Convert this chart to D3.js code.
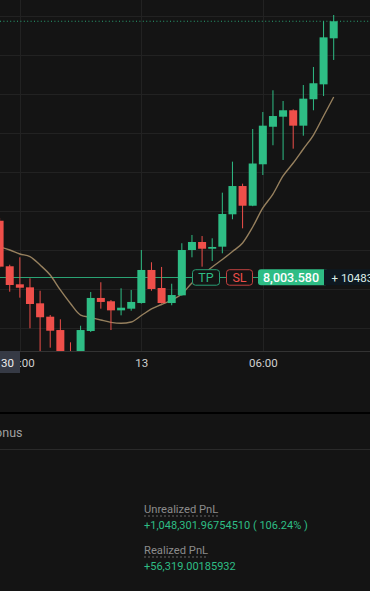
<!DOCTYPE html>
<html>
<head>
<meta charset="utf-8">
<script src="https://cdn.jsdelivr.net/npm/d3@7"></script>
<style>
  html, body { margin: 0; padding: 0; background: #141414; }
  svg { display: block; }
</style>
</head>
<body>
<svg id="chart" width="370" height="591"></svg>
<script>
// ---------- DATA ----------
const startTime = "2025-03-12T17:00:00";          // first (partly hidden) 30-min candle
const candleMinutes = 30;
const opens  = [8061.5,8014.8,7996.3,7993.2,7976.8,7963.1,7949.4,7916.6,7900.2,7948.4,7982.3,7978.9,7969.6,7971.3,7977.1,8011.0,7992.5,7977.1,7985.0,8031.5,8039.7,8032.8,8034.9,8068.1,8097.1,8076.9,8119.4,8157.9,8168.2,8174.8,8159.0,8186.1,8201.4,8248.6];
const highs  = [8064.3,8016.4,8024.0,8002.5,7989.7,7964.8,7960.4,7936.8,7953.8,7988.4,7998.4,7980.2,7992.2,7990.5,8031.5,8018.9,8014.1,7996.9,8038.4,8046.9,8045.8,8043.5,8090.3,8122.1,8099.5,8155.6,8173.0,8195.3,8184.3,8175.8,8200.7,8219.2,8266.1,8272.5];
const lows   = [8013.0,7988.7,7982.6,7951.2,7922.8,7931.3,7906.4,7893.0,7894.0,7947.4,7971.3,7949.4,7964.5,7969.2,7976.5,7989.7,7976.6,7974.8,7984.5,8024.0,8014.4,8020.2,8028.1,8063.0,8053.7,8076.4,8108.4,8138.9,8123.8,8135.4,8148.7,8174.8,8189.4,8226.4];
const closes = [8014.4,7995.6,7992.8,7976.1,7962.5,7948.7,7916.6,7900.2,7949.4,7982.3,7978.2,7969.6,7972.3,7978.2,8011.0,7991.5,7977.1,7985.3,8031.5,8039.7,8032.8,8034.6,8068.4,8097.1,8076.9,8120.2,8159.0,8168.9,8174.8,8159.0,8186.7,8202.5,8249.6,8266.1];
const maValues = [8034.6,8031.5,8027.4,8024.8,8016.1,8005.8,7990.5,7976.6,7964.8,7962.3,7959.7,7957.3,7956.3,7957.6,7964.3,7971.0,7975.6,7980.2,7986.4,7997.6,8005.8,8014.1,8021.7,8030.0,8038.7,8055.1,8074.6,8088.9,8107.4,8120.7,8135.1,8149.4,8168.9,8188.4];
const gridPrices = [7952,7992,8032,8072,8112,8152,8192,8232,8272];
const tickTimes  = ["2025-03-12T18:00:00","2025-03-13T00:00:00","2025-03-13T06:00:00"];
const tickLabels = ["18:00","13","06:00"];
const entryPrice = 8003.58;
const entryLabel = "8,003.580";
const pnlTag = "+ 1048301.97";
const lastPrice = closes[closes.length - 1];
const infoLabels = ["Unrealized PnL","Realized PnL"];
const infoValues = ["+1,048,301.96754510 ( 106.24% )","+56,319.00185932"];
const tabText = "Bonus";
const crossLabel = "30";

// ---------- STYLE ----------
const W = 370, H = 591;
const chartBottom = 351;
const UP = "#2ebd85", DOWN = "#ef4f4a";
const BG = "#141414";
const FONT = "Roboto, 'Noto Sans', sans-serif";

const svg = d3.select("#chart");
svg.append("rect").attr("width", W).attr("height", H).attr("fill", BG);

const parse = d3.isoParse;
const times = d3.timeMinute.every(candleMinutes).range(parse(startTime), d3.timeMinute.offset(parse(startTime), candleMinutes * opens.length));
const data = times.map((t, i) => ({t, o: opens[i], h: highs[i], l: lows[i], c: closes[i], ma: maValues[i]}));

const x = d3.scaleTime().domain([times[0], times[times.length - 1]]).range([-0.4, 333.7]);
const y = d3.scaleLinear().domain([7952, 8272]).range([327.5, 15.5]);
const bodyW = 8;

const defs = svg.append("defs");
defs.append("clipPath").attr("id", "plot")
  .append("rect").attr("x", 0).attr("y", 0).attr("width", W).attr("height", chartBottom);
defs.append("clipPath").attr("id", "axisclip")
  .append("rect").attr("x", 20).attr("y", chartBottom).attr("width", W - 20).attr("height", 40);
defs.append("clipPath").attr("id", "tabclip")
  .append("rect").attr("x", 0).attr("y", 415).attr("width", W).attr("height", 34);

const plot = svg.append("g").attr("clip-path", "url(#plot)");

// gridlines
plot.append("g").selectAll("line").data(gridPrices).join("line")
  .attr("x1", 0).attr("x2", W)
  .attr("y1", d => Math.round(y(d)) + 0.5).attr("y2", d => Math.round(y(d)) + 0.5)
  .attr("stroke", "#222").attr("stroke-width", 1);
plot.append("g").selectAll("line").data(tickTimes).join("line")
  .attr("y1", 0).attr("y2", chartBottom)
  .attr("x1", d => Math.round(x(parse(d))) + 0.5).attr("x2", d => Math.round(x(parse(d))) + 0.5)
  .attr("stroke", "#222").attr("stroke-width", 1);

// last price dotted line
plot.append("line")
  .attr("x1", 0).attr("x2", W).attr("y1", y(lastPrice)).attr("y2", y(lastPrice))
  .attr("stroke", UP).attr("stroke-width", 1).attr("stroke-dasharray", "1,2.4").attr("opacity", 0.85);

// entry line
plot.append("line")
  .attr("x1", 0).attr("x2", W).attr("y1", Math.round(y(entryPrice)) + 0.5).attr("y2", Math.round(y(entryPrice)) + 0.5)
  .attr("stroke", UP).attr("stroke-width", 1).attr("opacity", 0.85);

// moving average
plot.append("path").datum(data)
  .attr("d", d3.line().x(d => x(d.t)).y(d => y(d.ma)).curve(d3.curveMonotoneX))
  .attr("fill", "none").attr("stroke", "#a48c66").attr("stroke-width", 1.4).attr("opacity", 0.9);

// candles
const cg = plot.append("g").selectAll("g").data(data).join("g");
cg.append("line")
  .attr("x1", d => x(d.t)).attr("x2", d => x(d.t))
  .attr("y1", d => y(d.h)).attr("y2", d => y(d.l))
  .attr("stroke", d => d.c >= d.o ? UP : DOWN).attr("stroke-width", 1);
cg.append("rect")
  .attr("x", d => x(d.t) - bodyW / 2)
  .attr("width", bodyW)
  .attr("y", d => y(Math.max(d.o, d.c)))
  .attr("height", d => Math.max(1, Math.abs(y(d.o) - y(d.c))))
  .attr("fill", d => d.c >= d.o ? UP : DOWN);

// TP / SL / price labels on the entry line
const ey = y(entryPrice);
const lab = svg.append("g");
function boxLabel(x0, w, stroke, text, color) {
  lab.append("rect").attr("x", x0 + 0.5).attr("y", ey - 7.5).attr("width", w).attr("height", 15.5)
    .attr("rx", 3).attr("fill", BG).attr("stroke", stroke).attr("stroke-width", 1);
  lab.append("text").attr("x", x0 + w / 2 + 0.5).attr("y", ey + 4.5).attr("text-anchor", "middle")
    .attr("font-family", FONT).attr("font-size", 12.5).attr("fill", color).text(text);
}
boxLabel(192, 27, "#2a9d74", "TP", UP);
boxLabel(226, 26, "#c2403f", "SL", DOWN);
lab.append("rect").attr("x", 258).attr("y", ey - 8).attr("width", 70).attr("height", 16).attr("rx", 3).attr("fill", UP);
lab.append("rect").attr("x", 324).attr("y", ey - 8).attr("width", 50).attr("height", 16).attr("fill", "#0e1820");
lab.append("text").attr("x", 291).attr("y", ey + 4.5).attr("text-anchor", "middle")
  .attr("font-family", FONT).attr("font-size", 12.5).attr("font-weight", 500).attr("fill", "#fff").text(entryLabel);
lab.append("text").attr("x", 331.5).attr("y", ey + 4.3)
  .attr("font-family", FONT).attr("font-size", 11.5).attr("fill", "#dcefe8").text(pnlTag);

// chart bottom border
svg.append("line").attr("x1", 0).attr("x2", W).attr("y1", chartBottom + 0.5).attr("y2", chartBottom + 0.5)
  .attr("stroke", "#333").attr("stroke-width", 1);

// time axis (left part hidden behind the time box)
const axis = d3.axisBottom(x).tickValues(tickTimes.map(parse))
  .tickFormat((d, i) => tickLabels[i]).tickSize(0).tickPadding(7);
const ax = svg.append("g").attr("clip-path", "url(#axisclip)")
  .append("g").attr("transform", `translate(0,${chartBottom + 0.5})`).call(axis);
ax.select(".domain").remove();
ax.selectAll("text").attr("font-family", FONT).attr("font-size", 11.5).attr("fill", "#d0d0d0");

// time box at the left
svg.append("rect").attr("x", 0).attr("y", chartBottom).attr("width", 20).attr("height", 22).attr("fill", "#363a45");
svg.append("text").attr("x", 1).attr("y", 366.5)
  .attr("font-family", FONT).attr("font-size", 11.5).attr("fill", "#eee").text(crossLabel);

// separators + tab
svg.append("rect").attr("x", 0).attr("y", 412).attr("width", W).attr("height", 2).attr("fill", "#000");
svg.append("g").attr("clip-path", "url(#tabclip)")
  .append("text").attr("x", 22.5).attr("y", 436.5).attr("text-anchor", "end")
  .attr("font-family", FONT).attr("font-size", 12.5).attr("fill", "#a0a0a0").text(tabText);
svg.append("line").attr("x1", 0).attr("x2", W).attr("y1", 449.5).attr("y2", 449.5).attr("stroke", "#2a2a2a");

// PnL info
const infoY = [513, 554];
infoLabels.forEach((t, i) => {
  const tx = svg.append("text").attr("x", 144).attr("y", infoY[i])
    .attr("font-family", FONT).attr("font-size", 11.2).attr("fill", "#8c8c8c").text(t);
  const w = tx.node().getComputedTextLength();
  svg.append("line").attr("x1", 144).attr("x2", 144 + w).attr("y1", infoY[i] + 3).attr("y2", infoY[i] + 3)
    .attr("stroke", "#666").attr("stroke-dasharray", "2,2");
  svg.append("text").attr("x", 144).attr("y", infoY[i] + 16)
    .attr("font-family", FONT).attr("font-size", 11).attr("fill", UP).text(infoValues[i]);
});
</script>
</body>
</html>
